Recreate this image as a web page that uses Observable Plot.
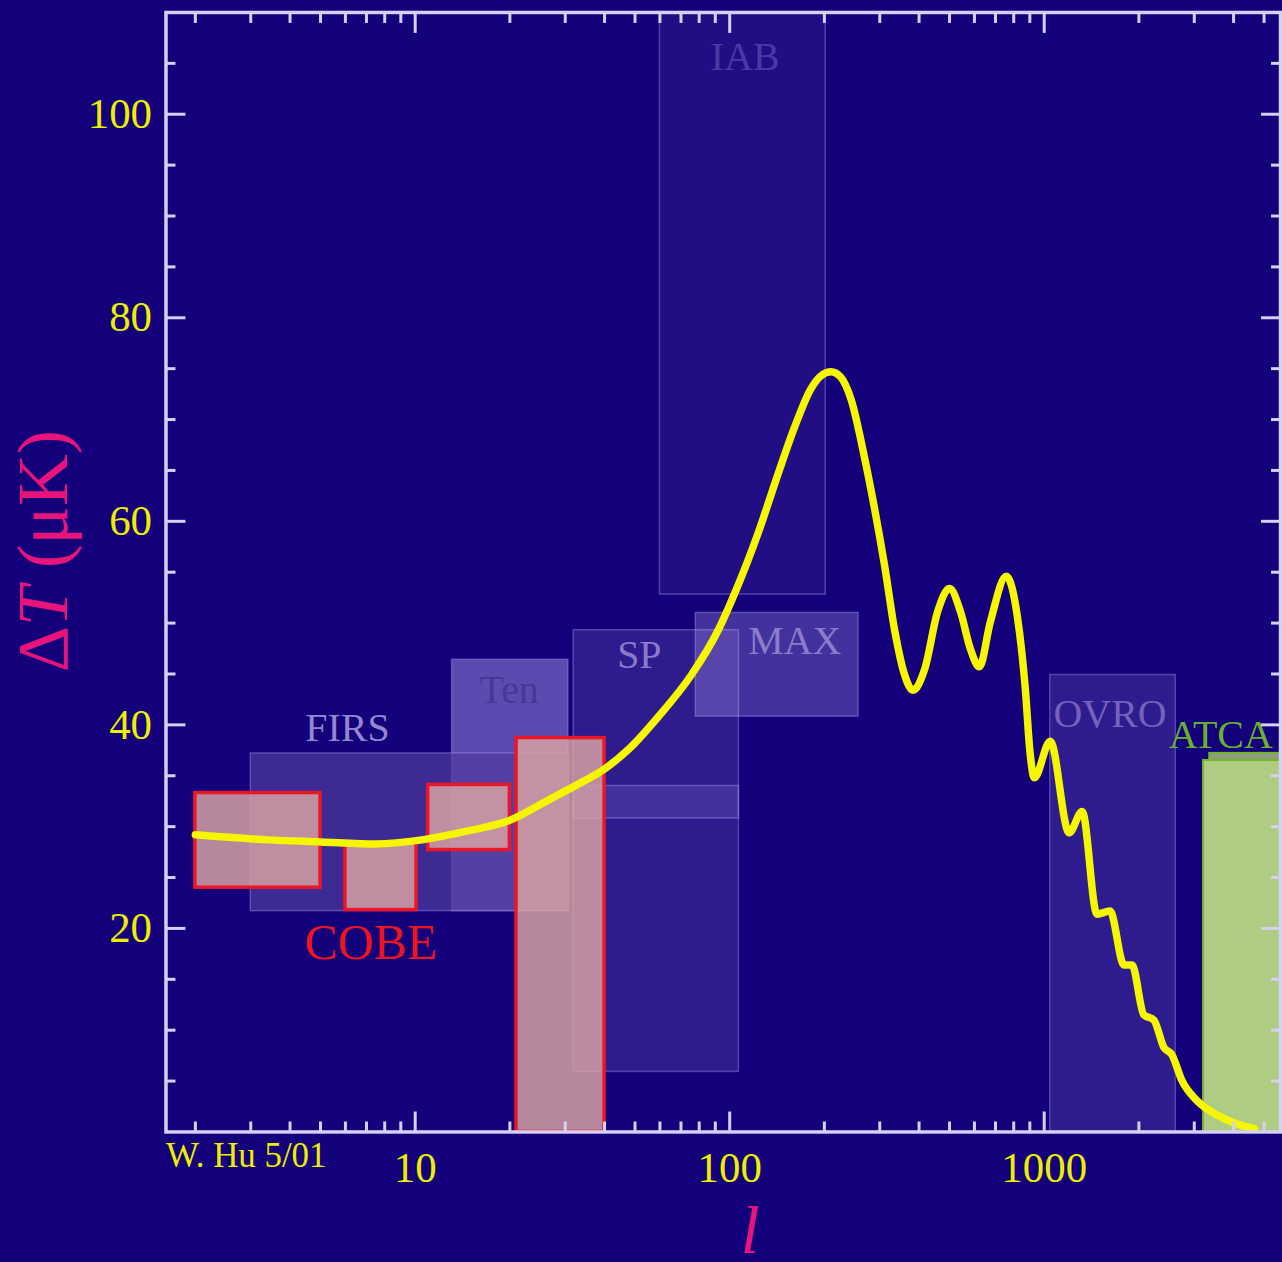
<!DOCTYPE html>
<html><head><meta charset="utf-8">
<script src="https://cdn.jsdelivr.net/npm/d3@7"></script>
<script src="https://cdn.jsdelivr.net/npm/@observablehq/plot@0.6"></script>
<style>
html,body{margin:0;padding:0;background:#13007a;overflow:hidden;}
#chart svg{display:block;}
</style></head><body><div id="chart"></div>
<script>
// ---- data ----
// experiment bands (l range, ΔT range in μK)
const expNames = ["IAB", "FIRS", "Ten", "SP", "SP", "MAX", "OVRO"];
const expL1 = [60, 3.0, 13.1, 31.9, 31.9, 78, 1045];
const expL2 = [202, 30.8, 30.7, 107, 107, 257, 2620];
const expLo = [52.8, 21.7, 21.7, 30.8, 5.9, 40.8, 0];
const expHi = [110, 37.2, 46.4, 49.3, 34.0, 51.0, 44.9];

// COBE bands
const cobeL1 = [2, 6, 11, 21];
const cobeL2 = [5, 10.1, 20, 40];
const cobeLo = [24.0, 21.8, 27.7, 0];
const cobeHi = [33.3, 28.4, 34.1, 38.7];

// ATCA bands
const atcaL1 = [3360, 3210];
const atcaL2 = [6000, 6000];
const atcaLo = [0, 0];
const atcaHi = [37.2, 36.5];

// theory curve
const curveL = [2, 3.4, 5, 7.5, 10.5, 14.8, 19.9, 27.2, 33.1, 39.7, 47.7, 59.3, 75.5, 91.9, 104, 123, 143, 161, 181, 195, 210, 225, 243, 269, 289, 311, 335, 360, 382, 417, 458, 500, 542, 582, 622, 674, 758, 821, 871, 900, 930, 1045, 1200, 1320, 1472, 1619, 1794, 1901, 2074, 2233, 2401, 2546, 2737, 3054, 3533, 4090, 4665];
const curveT = [29.2, 28.7, 28.5, 28.3, 28.7, 29.6, 30.6, 32.8, 34.2, 35.6, 37.6, 40.8, 44.9, 49.3, 53.0, 58.8, 64.8, 69.3, 73.0, 74.3, 74.7, 74.2, 72.0, 66.1, 61.2, 55.6, 49.2, 44.9, 43.4, 45.5, 51.1, 53.4, 51.1, 47.5, 45.7, 50.1, 54.6, 50.7, 43.5, 37.5, 34.8, 38.4, 29.4, 31.5, 21.4, 21.7, 16.4, 16.4, 11.5, 11.0, 8.3, 7.6, 5.1, 3.1, 1.7, 0.8, 0.3];

// labels
const labelText = ["IAB", "FIRS", "Ten", "SP", "MAX", "OVRO", "ATCA", "COBE"];
const labelL = [112, 6.09, 19.9, 51.6, 161, 1619, 3640, 7.25];
const labelT = [105.6, 39.7, 43.4, 46.8, 48.2, 41.0, 39.0, 18.6];

// ticks
const xMajor = [10, 100, 1000];
const xMinor = [2, 3, 4, 5, 6, 7, 8, 9, 20, 30, 40, 50, 60, 70, 80, 90, 200, 300, 400, 500, 600, 700, 800, 900, 2000, 3000, 4000, 5000];
const yMajor = [20, 40, 60, 80, 100];
const yMinor = [5, 10, 15, 25, 30, 35, 45, 50, 55, 65, 70, 75, 85, 90, 95, 105];
const xTickLabels = ["10", "100", "1000"];
const yTickLabels = ["20", "40", "60", "80", "100"];
const xLabel = "l";
const yLabel = "ΔT (μK)";
const credit = "W. Hu 5/01";

// ---- styles ----
const BG = "#13007a";
const LAV = "#d6d0f2";
const YEL = "#eeee00";
const PINK = "#e8147c";
const FONT = "'Liberation Serif', 'Times New Roman', serif";
const expOpacity = {IAB: 0.08, FIRS: 0.7, Ten: 0.4, SP: 0.15, MAX: 0.27, OVRO: 0.15};
const expFill = {FIRS: "#503c9c"};
const expOrder = ["IAB", "Ten", "FIRS", "SP", "MAX", "OVRO"];
const labelColor = {IAB: "#4c38a6", FIRS: "#9686d2", Ten: "#4a3698", SP: "#8a7acb", MAX: "#8c7cca", OVRO: "#7462bc", ATCA: "#6cb030", COBE: "#ee1420"};
const labelSize = {COBE: 50};

const exps = expNames.map((n, i) => ({n, l1: expL1[i], l2: expL2[i], lo: expLo[i], hi: expHi[i]}))
  .sort((a, b) => expOrder.indexOf(a.n) - expOrder.indexOf(b.n));
const cobe = cobeL1.map((l1, i) => ({l1, l2: cobeL2[i], lo: cobeLo[i], hi: cobeHi[i]}));
const atca = atcaL1.map((l1, i) => ({l1, l2: atcaL2[i], lo: atcaLo[i], hi: atcaHi[i], k: i}));
const curve = curveL.map((l, i) => ({l, t: curveT[i]}));
const labels = labelText.map((s, i) => ({s, l: labelL[i], t: labelT[i]}));

const chart = Plot.plot({
  width: 1286, height: 1262,
  marginLeft: 166, marginRight: 2, marginTop: 12, marginBottom: 127,
  style: {background: BG, fontFamily: FONT},
  x: {type: "log", domain: [1.613, 5640]},
  y: {domain: [0, 110]},
  color: {type: "identity"},
  opacity: {type: "identity"},
  marks: [
    Plot.rect(exps, {x1: "l1", x2: "l2", y1: "lo", y2: "hi", fill: d => expFill[d.n] || "#c8b8ff",
      fillOpacity: d => expOpacity[d.n], stroke: "#a898f0", strokeOpacity: 0.4, strokeWidth: 1.5, clip: true}),
    Plot.rect(cobe, {x1: "l1", x2: "l2", y1: "lo", y2: "hi", fill: "#dca5a4", fillOpacity: 0.82,
      stroke: "#ec1626", strokeWidth: 3.5}),
    Plot.rect(atca, {x1: "l1", x2: "l2", y1: "lo", y2: "hi",
      fill: d => d.k === 0 ? "#8c9e7e" : "#afcd82", stroke: "#78b428", strokeWidth: 2, clip: true}),
    Plot.line(curve, {x: "l", y: "t", curve: "monotone-x", stroke: "#f6f600", strokeWidth: 7.5, strokeLinecap: "round", strokeLinejoin: "round"}),
    Plot.text(labels, {x: "l", y: "t", text: "s", fill: d => labelColor[d.s],
      fontSize: d => labelSize[d.s] || 40, textAnchor: "middle", lineAnchor: "middle"}),
    Plot.frame({stroke: LAV, strokeWidth: 3.5}),
    // ticks (inward) on all four sides
    Plot.axisX({anchor: "bottom", ticks: xMajor, tickSize: -20, tickFormat: () => "", stroke: LAV, strokeWidth: 3, label: null}),
    Plot.axisX({anchor: "bottom", ticks: xMinor, tickSize: -10, tickFormat: () => "", stroke: LAV, strokeWidth: 3, label: null}),
    Plot.axisX({anchor: "top", ticks: xMajor, tickSize: -20, tickFormat: () => "", stroke: LAV, strokeWidth: 3, label: null}),
    Plot.axisX({anchor: "top", ticks: xMinor, tickSize: -10, tickFormat: () => "", stroke: LAV, strokeWidth: 3, label: null}),
    Plot.axisY({anchor: "left", ticks: yMajor, tickSize: -20, tickFormat: () => "", stroke: LAV, strokeWidth: 3, label: null}),
    Plot.axisY({anchor: "left", ticks: yMinor, tickSize: -10, tickFormat: () => "", stroke: LAV, strokeWidth: 3, label: null}),
    Plot.axisY({anchor: "right", ticks: yMajor, tickSize: -20, tickFormat: () => "", stroke: LAV, strokeWidth: 3, label: null}),
    Plot.axisY({anchor: "right", ticks: yMinor, tickSize: -10, tickFormat: () => "", stroke: LAV, strokeWidth: 3, label: null}),
    // tick labels
    Plot.axisX({anchor: "bottom", ticks: xMajor, tickSize: 0, tickPadding: 20,
      tickFormat: d => xTickLabels[xMajor.indexOf(d)], fill: YEL, fontSize: 43, label: null}),
    Plot.axisY({anchor: "left", ticks: yMajor, tickSize: 0, tickPadding: 14,
      tickFormat: d => yTickLabels[yMajor.indexOf(d)], fill: YEL, fontSize: 43, label: null}),
    // axis titles and credit
    Plot.text([yLabel], {frameAnchor: "left", rotate: -90, dx: -122, dy: -21, fill: PINK, fontSize: 72,
      textAnchor: "middle", lineAnchor: "middle"}),
    Plot.text([xLabel], {frameAnchor: "bottom", dx: 27, dy: 100, fill: PINK, fontSize: 68, fontStyle: "italic",
      textAnchor: "middle", lineAnchor: "middle"}),
    Plot.text([credit], {frameAnchor: "bottom-left", dy: 10, fill: YEL, fontSize: 35,
      textAnchor: "start", lineAnchor: "top"})
  ]
});
// italicise T in the y label
chart.querySelectorAll("text").forEach(t => {
  if (t.textContent === yLabel) {
    t.textContent = "";
    const ns = "http://www.w3.org/2000/svg";
    const a = document.createElementNS(ns, "tspan"); a.textContent = "Δ";
    const b = document.createElementNS(ns, "tspan"); b.textContent = "T"; b.setAttribute("font-style", "italic");
    const c = document.createElementNS(ns, "tspan"); c.textContent = " (μK)";
    t.append(a, b, c);
  }
});
document.getElementById("chart").append(chart);
</script>
</body></html>
